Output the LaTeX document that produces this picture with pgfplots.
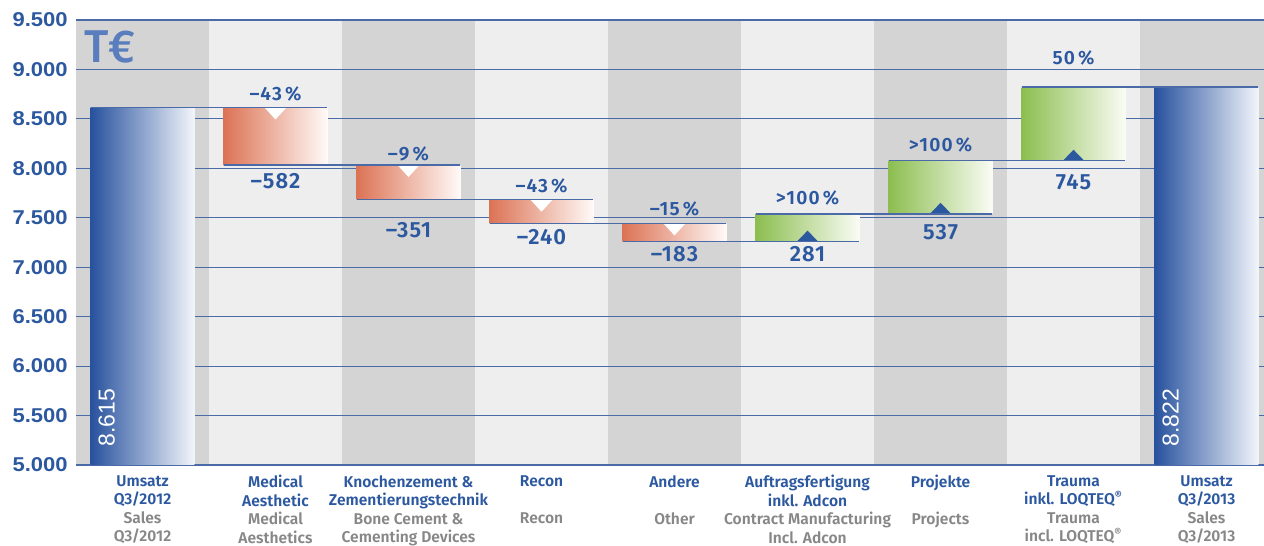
\documentclass[border=0pt]{standalone}
\usepackage{fontspec}
\setmainfont{Fira Sans}[BoldFont={Fira Sans SemiBold}]
\newfontfamily\medfont{Fira Sans Medium}
\newfontfamily\labfont{Fira Sans SemiBold}[LetterSpace=6]
\newfontfamily\valfont{Fira Sans SemiBold}[LetterSpace=5]
\newfontfamily\tickfont{Liberation Sans}[FakeStretch=1.1]
\newfontfamily\barfont{Liberation Sans}
\usepackage{pgfplots}
\pgfplotsset{compat=1.18}
\definecolor{tblue}{RGB}{44,88,160}
\definecolor{tgrey}{RGB}{135,135,135}
\definecolor{gridc}{RGB}{74,106,168}
\definecolor{teur}{RGB}{90,125,190}
\definecolor{bgdark}{RGB}{212,212,212}
\definecolor{bglight}{RGB}{238,238,238}
\definecolor{bblue}{RGB}{40,82,158}
\definecolor{bblueR}{RGB}{242,245,251}
\definecolor{bred}{RGB}{220,115,85}
\definecolor{bredR}{RGB}{255,250,248}
\definecolor{bgreen}{RGB}{140,190,80}
\definecolor{bgreenR}{RGB}{250,252,245}
\newcommand\g[1]{\textcolor{tgrey}{#1}}
\begin{document}
\begin{tikzpicture}
\begin{axis}[
  at={(0,0)}, anchor=south west,
  scale only axis, width=594pt, height=222.5pt,
  xmin=-0.5, xmax=8.432, ymin=5000, ymax=9500,
  set layers, clip=false,
  axis background/.style={fill=bglight},
  axis line style={draw=none},
  major tick length=0pt,
  ytick={5000,5500,...,9500},
  scaled y ticks=false,
  ymajorgrids, grid style={gridc, line width=0.6pt},
  yticklabel style={font=\tickfont\bfseries\fontsize{10}{12}\selectfont, text=tblue, inner sep=0pt, xshift=-4pt,
    /pgf/number format/1000 sep={.}, /pgf/number format/assume math mode=true},
  xtick={0,...,8},
  xticklabels={
    Umsatz\\Q3/2012\\\g{Sales}\\\g{Q3/2012},
    Medical\\Aesthetic\\\g{Medical}\\\g{Aesthetics},
    Knochenzement \&\\Zementierungstechnik\\\g{Bone Cement \&}\\\g{Cementing Devices},
    Recon\\\mbox{}\\\g{Recon}\\\mbox{},
    Andere\\\mbox{}\\\g{Other}\\\mbox{},
    Auftragsfertigung\\inkl. Adcon\\\g{Contract Manufacturing}\\\g{Incl. Adcon},
    Projekte\\\mbox{}\\\g{Projects}\\\mbox{},
    Trauma\\inkl. LOQTEQ\textsuperscript{®}\\\g{Trauma}\\\g{incl. LOQTEQ\textsuperscript{®}},
    Umsatz\\Q3/2013\\\g{Sales}\\\g{Q3/2013}},
  xticklabel style={align=center, anchor=north, inner sep=0pt, yshift=-5pt, text=tblue,
    font=\bfseries\fontsize{7.8}{9.25}\selectfont},
]
% background columns
\addplot[on layer=axis background, fill=bgdark, draw=none] coordinates {(-0.5,5000) (0.5,5000) (0.5,9500) (-0.5,9500)} -- cycle;
\addplot[on layer=axis background, fill=bgdark, draw=none] coordinates {(1.5,5000) (2.5,5000) (2.5,9500) (1.5,9500)} -- cycle;
\addplot[on layer=axis background, fill=bgdark, draw=none] coordinates {(3.5,5000) (4.5,5000) (4.5,9500) (3.5,9500)} -- cycle;
\addplot[on layer=axis background, fill=bgdark, draw=none] coordinates {(5.5,5000) (6.5,5000) (6.5,9500) (5.5,9500)} -- cycle;
\addplot[on layer=axis background, fill=bgdark, draw=none] coordinates {(7.5,5000) (8.432,5000) (8.432,9500) (7.5,9500)} -- cycle;
% bars
\addplot[draw=none, left color=bblue, right color=bblueR] coordinates {(-0.39,5000) (0.39,5000) (0.39,8615) (-0.39,8615)} -- cycle;
\addplot[draw=none, left color=bred, right color=bredR] coordinates {(0.61,8033) (1.39,8033) (1.39,8615) (0.61,8615)} -- cycle;
\addplot[draw=none, left color=bred, right color=bredR] coordinates {(1.61,7682) (2.39,7682) (2.39,8033) (1.61,8033)} -- cycle;
\addplot[draw=none, left color=bred, right color=bredR] coordinates {(2.61,7442) (3.39,7442) (3.39,7682) (2.61,7682)} -- cycle;
\addplot[draw=none, left color=bred, right color=bredR] coordinates {(3.61,7259) (4.39,7259) (4.39,7442) (3.61,7442)} -- cycle;
\addplot[draw=none, left color=bgreen, right color=bgreenR] coordinates {(4.61,7259) (5.39,7259) (5.39,7540) (4.61,7540)} -- cycle;
\addplot[draw=none, left color=bgreen, right color=bgreenR] coordinates {(5.61,7540) (6.39,7540) (6.39,8077) (5.61,8077)} -- cycle;
\addplot[draw=none, left color=bgreen, right color=bgreenR] coordinates {(6.61,8077) (7.39,8077) (7.39,8822) (6.61,8822)} -- cycle;
\addplot[draw=none, left color=bblue, right color=bblueR] coordinates {(7.61,5000) (8.39,5000) (8.39,8822) (7.61,8822)} -- cycle;
% triangles
\addplot[draw=none, fill=white] coordinates {(0.9175,8615) (1.0825,8615) (1,8494)} -- cycle;
\addplot[draw=none, fill=white] coordinates {(1.9175,8033) (2.0825,8033) (2,7912)} -- cycle;
\addplot[draw=none, fill=white] coordinates {(2.9175,7682) (3.0825,7682) (3,7561)} -- cycle;
\addplot[draw=none, fill=white] coordinates {(3.9175,7442) (4.0825,7442) (4,7321)} -- cycle;
\addplot[draw=none, fill=tblue] coordinates {(4.92,7259) (5.08,7259) (5,7370)} -- cycle;
\addplot[draw=none, fill=tblue] coordinates {(5.92,7540) (6.08,7540) (6,7651)} -- cycle;
\addplot[draw=none, fill=tblue] coordinates {(6.92,8077) (7.08,8077) (7,8188)} -- cycle;
% connectors
\addplot[gridc, line width=0.7pt] coordinates {(-0.39,8615) (1.39,8615)};
\addplot[gridc, line width=0.7pt] coordinates {(0.61,8033) (2.39,8033)};
\addplot[gridc, line width=0.7pt] coordinates {(1.61,7682) (3.39,7682)};
\addplot[gridc, line width=0.7pt] coordinates {(2.61,7442) (4.39,7442)};
\addplot[gridc, line width=0.7pt] coordinates {(3.61,7259) (5.39,7259)};
\addplot[gridc, line width=0.7pt] coordinates {(4.61,7540) (6.39,7540)};
\addplot[gridc, line width=0.7pt] coordinates {(5.61,8077) (7.39,8077)};
\addplot[gridc, line width=0.7pt] coordinates {(6.61,8822) (8.39,8822)};
% labels
\begin{scope}[every node/.style={text=tblue, anchor=base, inner sep=0pt}]
\node[font=\labfont\fontsize{9.6}{10}\selectfont] at (axis cs:1,8691) {–43\,\%};
\node[font=\labfont\fontsize{9.6}{10}\selectfont] at (axis cs:2,8084) {–9\,\%};
\node[font=\labfont\fontsize{9.6}{10}\selectfont] at (axis cs:3,7751) {–43\,\%};
\node[font=\labfont\fontsize{9.6}{10}\selectfont] at (axis cs:4,7528) {–15\,\%};
\node[font=\labfont\fontsize{9.6}{10}\selectfont] at (axis cs:5,7639) {>100\,\%};
\node[font=\labfont\fontsize{9.6}{10}\selectfont] at (axis cs:6,8175) {>100\,\%};
\node[font=\labfont\fontsize{9.6}{10}\selectfont] at (axis cs:7,9045) {50\,\%};
\node[font=\valfont\fontsize{11}{12}\selectfont] at (axis cs:1,7801) {–582};
\node[font=\valfont\fontsize{11}{12}\selectfont] at (axis cs:2,7296) {–351};
\node[font=\valfont\fontsize{11}{12}\selectfont] at (axis cs:3,7225) {–240};
\node[font=\valfont\fontsize{11}{12}\selectfont] at (axis cs:4,7053) {–183};
\node[font=\valfont\fontsize{11}{12}\selectfont] at (axis cs:5,7053) {281};
\node[font=\valfont\fontsize{11}{12}\selectfont] at (axis cs:6,7285) {537};
\node[font=\valfont\fontsize{11}{12}\selectfont] at (axis cs:7,7781) {745};
\end{scope}
\node[rotate=90, anchor=base west, inner sep=0pt, text=white, font=\barfont\fontsize{11.5}{12}\selectfont] at (axis cs:-0.21,5182) {8.615};
\node[rotate=90, anchor=base west, inner sep=0pt, text=white, font=\barfont\fontsize{11.5}{12}\selectfont] at (axis cs:7.79,5182) {8.822};
\node[anchor=base west, inner sep=0pt, text=teur, font=\medfont\fontsize{23}{23}\selectfont] at (axis cs:-0.44,9075) {T€};
\end{axis}
\pgfresetboundingbox
\path[use as bounding box] (-38pt,-40.5pt) rectangle (594pt,232.5pt);
\end{tikzpicture}
\end{document}
